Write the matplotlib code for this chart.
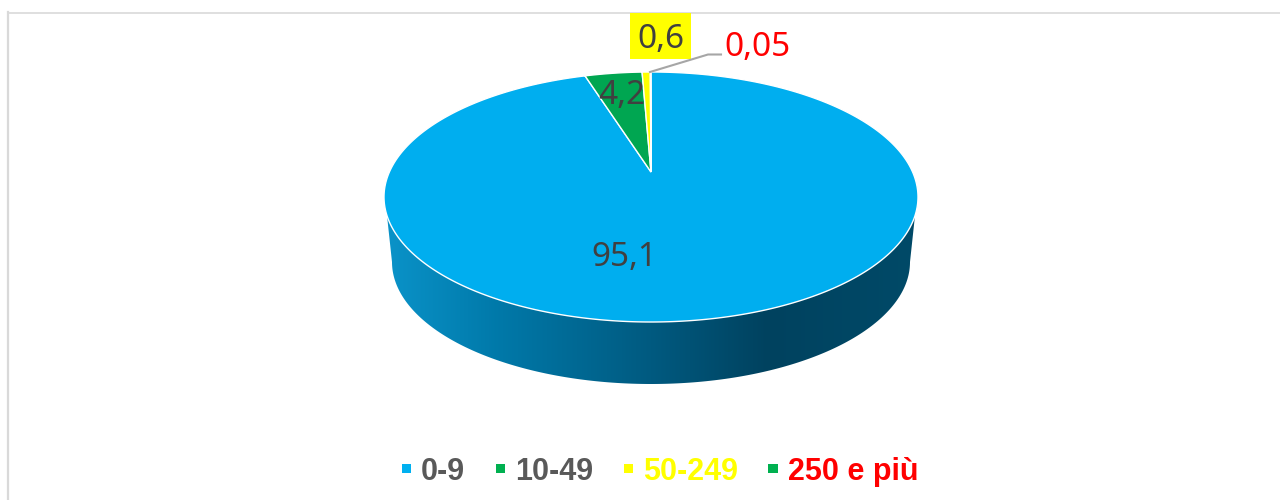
import numpy as np
import matplotlib
matplotlib.use('Agg')
import matplotlib.pyplot as plt
from matplotlib.colors import LinearSegmentedColormap
from matplotlib.patches import Patch, Polygon, Rectangle
from matplotlib.path import Path
from matplotlib.transforms import Affine2D, Transform

categories = ['0-9', '10-49', '50-249', '250 e più']
values = [95.1, 4.2, 0.6, 0.05]
slice_colors = ['#00AEEF', '#00A651', '#FFFF00', '#00B050']
legend_colors = ['#00B0F0', '#00B050', '#FFFF00', '#00B050']
legend_text_colors = ['#595959', '#595959', '#FFFF00', '#FF0000']
side_colors = ['#0A93C9', '#0078A8', '#005A80', '#00425F', '#004A68']


# tilted disc: the unit circle seen in perspective, in pixel coords
class TiltTransform(Transform):
    input_dims = 2
    output_dims = 2
    is_separable = False

    def transform_non_affine(self, values):
        pts = np.asarray(values, dtype=float)
        w = 1 + 0.2 * pts[:, 1]
        return np.column_stack([651 + 261.6 * pts[:, 0] / w, 172 - 120 * pts[:, 1] / w])

    def transform_path_non_affine(self, path):
        # flatten at a big scale, otherwise the unit circle comes out coarse
        polys = path.to_polygons(transform=Affine2D().scale(5000), closed_only=False)
        verts = np.concatenate(polys) / 5000
        return Path(self.transform_non_affine(verts))


fig = plt.figure(figsize=(12.8, 5), dpi=100)
ax = fig.add_axes([0, 0, 1, 1])

wedges, _ = ax.pie(values, colors=slice_colors, startangle=90, counterclock=False,
                   wedgeprops={'edgecolor': 'white', 'linewidth': 1.0})
tilt = TiltTransform() + ax.transData
for w in wedges:
    w.set_transform(tilt)
    w.set_zorder(3)

# side of the disc with the dark gradient
t = np.linspace(np.pi, 2 * np.pi, 200)
side_x = np.concatenate([[385], 651 + 259 * np.cos(t), [917]])
side_y = np.concatenate([[197], 262 - 122 * np.sin(t), [197]])
side = Polygon(np.column_stack([side_x, side_y]), closed=True, facecolor='none', edgecolor='none')
ax.add_patch(side)
cmap = LinearSegmentedColormap.from_list('side', list(zip([0, 0.22, 0.5, 0.72, 1], side_colors)))
grad = np.linspace(0, 1, 256).reshape(1, -1)
im = ax.imshow(grad, cmap=cmap, extent=[385, 917, 390, 190], aspect='auto', zorder=2)
im.set_clip_path(side)

ax.set_xlim(0, 1280)
ax.set_ylim(500, 0)
ax.set_aspect('auto')
ax.axis('off')

# chart border, only top and left are visible
ax.plot([8, 1280], [12.5, 12.5], color='#D9D9D9', lw=1.2, zorder=1)
ax.plot([8, 8], [12, 500], color='#D9D9D9', lw=1.6, zorder=1)

labels = [str(v).replace('.', ',') for v in values]
label_font = {'family': 'Noto Sans', 'size': 24, 'ha': 'center', 'va': 'center', 'zorder': 5}
ax.text(624, 257, labels[0], color='#404040', **label_font)
ax.text(622, 95, labels[1], color='#404040', **label_font)
ax.add_patch(Rectangle((630, 13), 61, 46, facecolor='#FFFF00', edgecolor='none', zorder=4))
ax.text(660.5, 39, labels[2], color='#404040', **label_font)
ax.text(757, 47, labels[3], color='#FF0000', **label_font)
ax.plot([650, 708, 721], [72, 54.5, 54.5], color='#A6A6A6', lw=1.5, zorder=4)

handles = [Patch(facecolor=c, edgecolor='none') for c in legend_colors]
leg = ax.legend(handles, categories, ncol=4, loc='center', bbox_to_anchor=(660 / 1280, 1 - 472 / 500),
                frameon=False, handlelength=0.3, handleheight=0.08, handletextpad=0.33,
                columnspacing=1.0, prop={'family': 'Liberation Sans', 'weight': 'bold', 'size': 22})
for txt, c in zip(leg.get_texts(), legend_text_colors):
    txt.set_color(c)

fig.savefig('out.png', dpi=100)
